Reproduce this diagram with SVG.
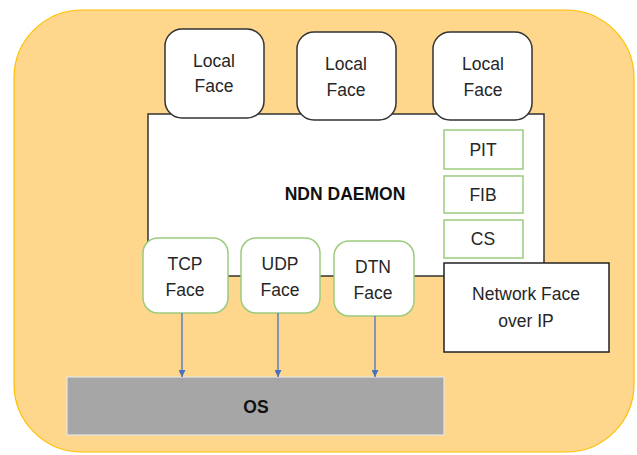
<svg xmlns="http://www.w3.org/2000/svg" width="637" height="455" viewBox="0 0 637 455">
<defs>
<style>
.t{font-family:"Liberation Sans","Open Sans",sans-serif;font-size:17.5px;fill:#262626;text-anchor:middle}
.b{font-weight:bold;fill:#111}
.face{fill:#fff;stroke:#333;stroke-width:1.5}
.green{fill:#fff;stroke:#9ccb7e;stroke-width:1.5}
.conn{stroke:#4472c4;stroke-width:1.3;fill:none}
</style>
<marker id="ah" viewBox="0 0 10 10" refX="10" refY="5" markerWidth="7" markerHeight="7" orient="auto" markerUnits="userSpaceOnUse">
<path d="M0,0 L10,5 L0,10 z" fill="#4472c4"/>
</marker>
</defs>
<rect width="637" height="455" fill="#fff"/>
<g id="container">
<rect x="14" y="10" width="620" height="442" rx="68" ry="68" fill="#fed68c" stroke="#ffc000" stroke-width="1.2"/>
</g>
<g id="daemon">
<rect x="148" y="114" width="396" height="162" fill="#fff" stroke="#333" stroke-width="1.5"/>
<text class="t b" x="345" y="200">NDN DAEMON</text>
</g>
<g id="local1">
<rect class="face" x="165" y="29" width="99" height="89" rx="17"/>
<text class="t" x="214" y="67">Local</text><text class="t" x="214" y="92">Face</text>
</g>
<g id="local2">
<rect class="face" x="297" y="32" width="99" height="88" rx="17"/>
<text class="t" x="346" y="70">Local</text><text class="t" x="346" y="96">Face</text>
</g>
<g id="local3">
<rect class="face" x="433" y="32" width="99" height="88" rx="17"/>
<text class="t" x="483" y="70">Local</text><text class="t" x="483" y="96">Face</text>
</g>
<g id="pit">
<rect class="green" x="444" y="130" width="79" height="39"/>
<text class="t" x="483" y="156">PIT</text>
</g>
<g id="fib">
<rect class="green" x="444" y="176" width="79" height="37"/>
<text class="t" x="483" y="201">FIB</text>
</g>
<g id="cs">
<rect class="green" x="444" y="220" width="79" height="38"/>
<text class="t" x="483" y="245">CS</text>
</g>
<g id="tcp">
<rect class="green" x="143" y="238" width="85" height="75" rx="15"/>
<text class="t" x="185" y="270">TCP</text><text class="t" x="185" y="296">Face</text>
</g>
<g id="udp">
<rect class="green" x="241" y="238" width="79" height="75" rx="15"/>
<text class="t" x="280" y="270">UDP</text><text class="t" x="280" y="296">Face</text>
</g>
<g id="dtn">
<rect class="green" x="334" y="241" width="80" height="75" rx="15"/>
<text class="t" x="373" y="273">DTN</text><text class="t" x="373" y="299">Face</text>
</g>
<g id="netface">
<rect x="444" y="263" width="165" height="89" fill="#fff" stroke="#222" stroke-width="1.5"/>
<text class="t" x="526" y="300">Network Face</text><text class="t" x="526" y="327">over IP</text>
</g>
<g id="os">
<rect x="67" y="377" width="377" height="58" fill="#a6a6a6" stroke="#e6e6e6" stroke-width="1.2"/>
<text class="t b" x="256" y="413">OS</text>
</g>
<g id="connectors">
<line class="conn" x1="182" y1="313" x2="182" y2="377" marker-end="url(#ah)"/>
<line class="conn" x1="278" y1="313" x2="278" y2="377" marker-end="url(#ah)"/>
<line class="conn" x1="375" y1="316" x2="375" y2="377" marker-end="url(#ah)"/>
</g>
</svg>
